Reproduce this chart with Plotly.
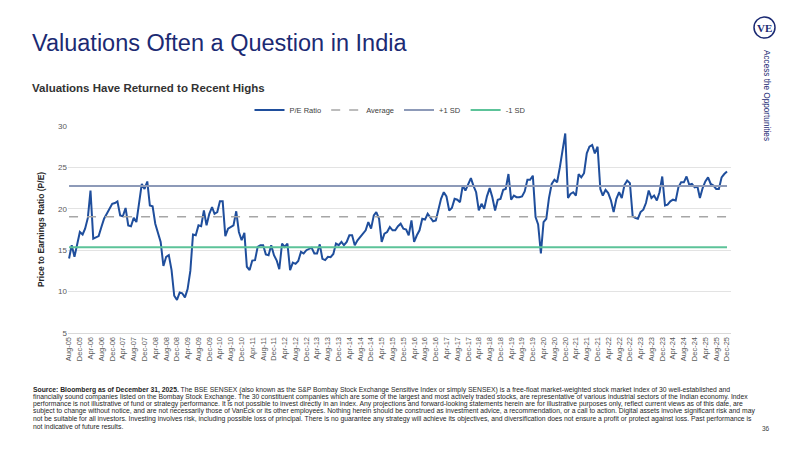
import pandas as pd
import plotly.graph_objects as go

# ---- data ----
pe_ratio = [
    14.0, 15.6, 14.2, 15.9, 17.2, 16.9, 17.6, 18.9, 22.2, 16.4,
    16.6, 16.7, 17.8, 18.8, 19.4, 20.0, 20.6, 20.7, 20.9, 19.2,
    19.1, 20.1, 18.0, 17.9, 18.9, 18.4, 21.0, 23.0, 22.4, 23.3,
    20.4, 20.3, 18.2, 17.0, 16.0, 13.1, 14.2, 14.4, 12.6, 9.5,
    9.0, 9.9, 9.8, 9.3, 10.3, 12.5, 16.9, 16.8, 18.0, 17.9,
    19.8, 18.0, 19.4, 20.2, 19.4, 19.6, 20.9, 20.9, 16.7, 17.6,
    17.8, 18.0, 19.7, 17.2, 16.2, 17.1, 13.0, 12.6, 13.75, 13.8,
    15.4, 15.6, 15.6, 14.5, 14.4, 15.6, 14.4, 13.75, 12.7, 15.8,
    15.4, 15.8, 12.6, 13.5, 13.35, 13.7, 14.8, 14.6, 15.0, 15.2,
    15.3, 14.6, 14.6, 15.7, 13.95, 13.8, 14.2, 14.15, 14.55, 15.8,
    15.6, 16.0, 15.6, 16.0, 16.8, 16.8, 15.6, 16.2, 16.6, 16.9,
    17.4, 18.4, 17.6, 19.2, 19.6, 18.8, 16.0, 17.0, 17.2, 17.8,
    17.4, 17.4, 17.9, 18.2, 17.6, 17.5, 16.8, 18.6, 16.0, 16.8,
    17.4, 18.8, 18.7, 19.4, 19.0, 18.5, 18.6, 19.8, 21.2, 22.0,
    21.5, 19.8, 20.1, 21.2, 21.1, 20.8, 22.8, 22.2, 23.0, 23.7,
    22.8, 22.0, 19.8, 20.6, 20.0, 21.5, 22.5, 21.4, 19.8, 21.1,
    21.2, 22.3, 22.4, 24.2, 21.1, 21.6, 21.4, 21.4, 21.5, 22.1,
    23.5, 23.5, 24.0, 19.0, 18.1, 14.6, 18.4, 18.8, 21.3, 23.0,
    23.5, 23.2, 25.0, 27.1, 29.1, 21.3, 21.8, 22.0, 21.6, 24.2,
    23.8, 24.3, 26.7, 27.5, 27.7, 26.7, 27.5, 22.4, 21.6, 22.3,
    21.9, 21.0, 19.6, 21.2, 22.0, 21.3, 22.9, 23.4, 23.1, 19.1,
    18.9, 18.8, 19.6, 19.9, 20.7, 22.2, 21.3, 21.6, 21.0, 22.0,
    23.9, 20.4, 20.5, 20.9, 21.1, 21.0, 22.6, 23.2, 23.2, 23.9,
    22.9, 23.0, 22.6, 22.7, 21.3, 22.5, 23.3, 23.8, 23.0, 22.8,
    22.4, 22.4, 23.8, 24.2, 24.5,
]
average_pe = 19.05
plus_1sd = 22.75
minus_1sd = 15.35
start_month = "2005-08-31"
tick_step_months = 4
y_ticks = [5, 10, 15, 20, 25, 30]

dates = pd.date_range(start_month, periods=len(pe_ratio), freq="ME")
tick_dates = list(dates[::tick_step_months])
tick_text = [d.strftime("%b-%y") for d in tick_dates]

# ---- layout helpers (pixel -> paper) ----
L, R, T, B = 68, 731, 126, 333
def px(x):
    return (x - L) / (R - L)
def py(y):
    return (B - y) / (B - T)

NAVY = "#1b2a73"
BLUE = "#1f4e9c"
FONT = "Liberation Sans, Arial, sans-serif"
NARROW = "Liberation Sans Narrow, Arial Narrow, Liberation Sans, sans-serif"

fig = go.Figure()
fig.add_trace(go.Scatter(x=dates, y=pe_ratio, mode="lines", name="P/E Ratio",
                         line=dict(color=BLUE, width=2)))
fig.add_trace(go.Scatter(x=dates, y=[average_pe] * len(dates), mode="lines", name="Average",
                         line=dict(color="#a6a6a6", width=1.5, dash="dash")))
fig.add_trace(go.Scatter(x=dates, y=[plus_1sd] * len(dates), mode="lines", name="+1 SD",
                         line=dict(color="#8d9ab8", width=2)))
fig.add_trace(go.Scatter(x=dates, y=[minus_1sd] * len(dates), mode="lines", name="-1 SD",
                         line=dict(color="#5cc399", width=2)))

x0 = dates[0] - pd.Timedelta(days=12)
x1 = dates[-1] + pd.Timedelta(days=45)

fig.update_layout(
    width=800, height=450,
    margin=dict(l=L, r=800 - R, t=T, b=450 - B),
    paper_bgcolor="white", plot_bgcolor="white",
    font=dict(family=FONT, color="#404040"),
    showlegend=True,
    legend=dict(orientation="h", x=px(390), y=py(110), xanchor="center", yanchor="middle",
                font=dict(size=7.5, color="#404040"), itemwidth=30, tracegroupgap=0,
                bgcolor="rgba(0,0,0,0)"),
    xaxis=dict(range=[x0, x1], tickvals=tick_dates, ticktext=tick_text, tickangle=-90,
               tickfont=dict(size=7.5, color="#595959"), showgrid=False,
               showline=True, linecolor="#d9d9d9", linewidth=1, ticks="", zeroline=False),
    yaxis=dict(range=[5, 30], tickvals=y_ticks, tickfont=dict(size=8, color="#595959"),
               showgrid=True, gridcolor="#e3e3e3", gridwidth=1, zeroline=False,
               ticks="", ticklen=0, showline=False,
               title=dict(text="<b>Price to Earnings Ratio (P/E)</b>",
                          font=dict(size=8.5, color="#262626"), standoff=12)),
    hovermode=False,
)

annotations = [
    dict(text="Valuations Often a Question in India", x=px(30), y=py(43), xanchor="left",
         yanchor="middle", font=dict(size=23.5, color=NAVY, family=FONT)),
    dict(text="<b>Valuations Have Returned to Recent Highs</b>", x=px(30), y=py(88),
         xanchor="left", yanchor="middle", font=dict(size=11.5, color="#333333", family=FONT)),
    dict(text="<b>VE</b>", x=px(764.5), y=py(27.5), xanchor="center", yanchor="middle",
         font=dict(size=11, color=NAVY, family="Liberation Serif, Times New Roman, serif")),
    dict(text="Access the Opportunities", x=px(767), y=py(95), xanchor="center", yanchor="middle",
         textangle=90, font=dict(size=8.2, color=NAVY, family=FONT)),
    dict(text="36", x=px(766), y=py(428), xanchor="center", yanchor="middle",
         font=dict(size=6.5, color="#404040", family=FONT)),
]

source_lines = [
    "<b>Source: Bloomberg as of December 31, 2025.</b> The BSE SENSEX (also known as the S&P Bombay Stock Exchange Sensitive Index or simply SENSEX) is a free-float market-weighted stock market index of 30 well-established and",
    "financially sound companies listed on the Bombay Stock Exchange. The 30 constituent companies which are some of the largest and most actively traded stocks, are representative of various industrial sectors of the Indian economy. Index",
    "performance is not illustrative of fund or strategy performance. It is not possible to invest directly in an index. Any projections and forward-looking statements herein are for illustrative purposes only, reflect current views as of this date, are",
    "subject to change without notice, and are not necessarily those of VanEck or its other employees. Nothing herein should be construed as investment advice, a recommendation, or a call to action. Digital assets involve significant risk and may",
    "not be suitable for all investors. Investing involves risk, including possible loss of principal. There is no guarantee any strategy will achieve its objectives, and diversification does not ensure a profit or protect against loss. Past performance is",
    "not indicative of future results.",
]
for i, line in enumerate(source_lines):
    annotations.append(dict(text=line, x=px(31), y=py(389.5 + i * 7.3), xanchor="left",
                            yanchor="middle", align="left",
                            font=dict(size=6.8, color="#262626", family=NARROW)))
for a in annotations:
    a.update(xref="paper", yref="paper", showarrow=False)
fig.update_layout(annotations=annotations)

fig.add_shape(type="circle", xref="paper", yref="paper",
              x0=px(754), x1=px(775), y0=py(17), y1=py(38),
              line=dict(color=NAVY, width=1.5))

fig.write_html("out.html")
